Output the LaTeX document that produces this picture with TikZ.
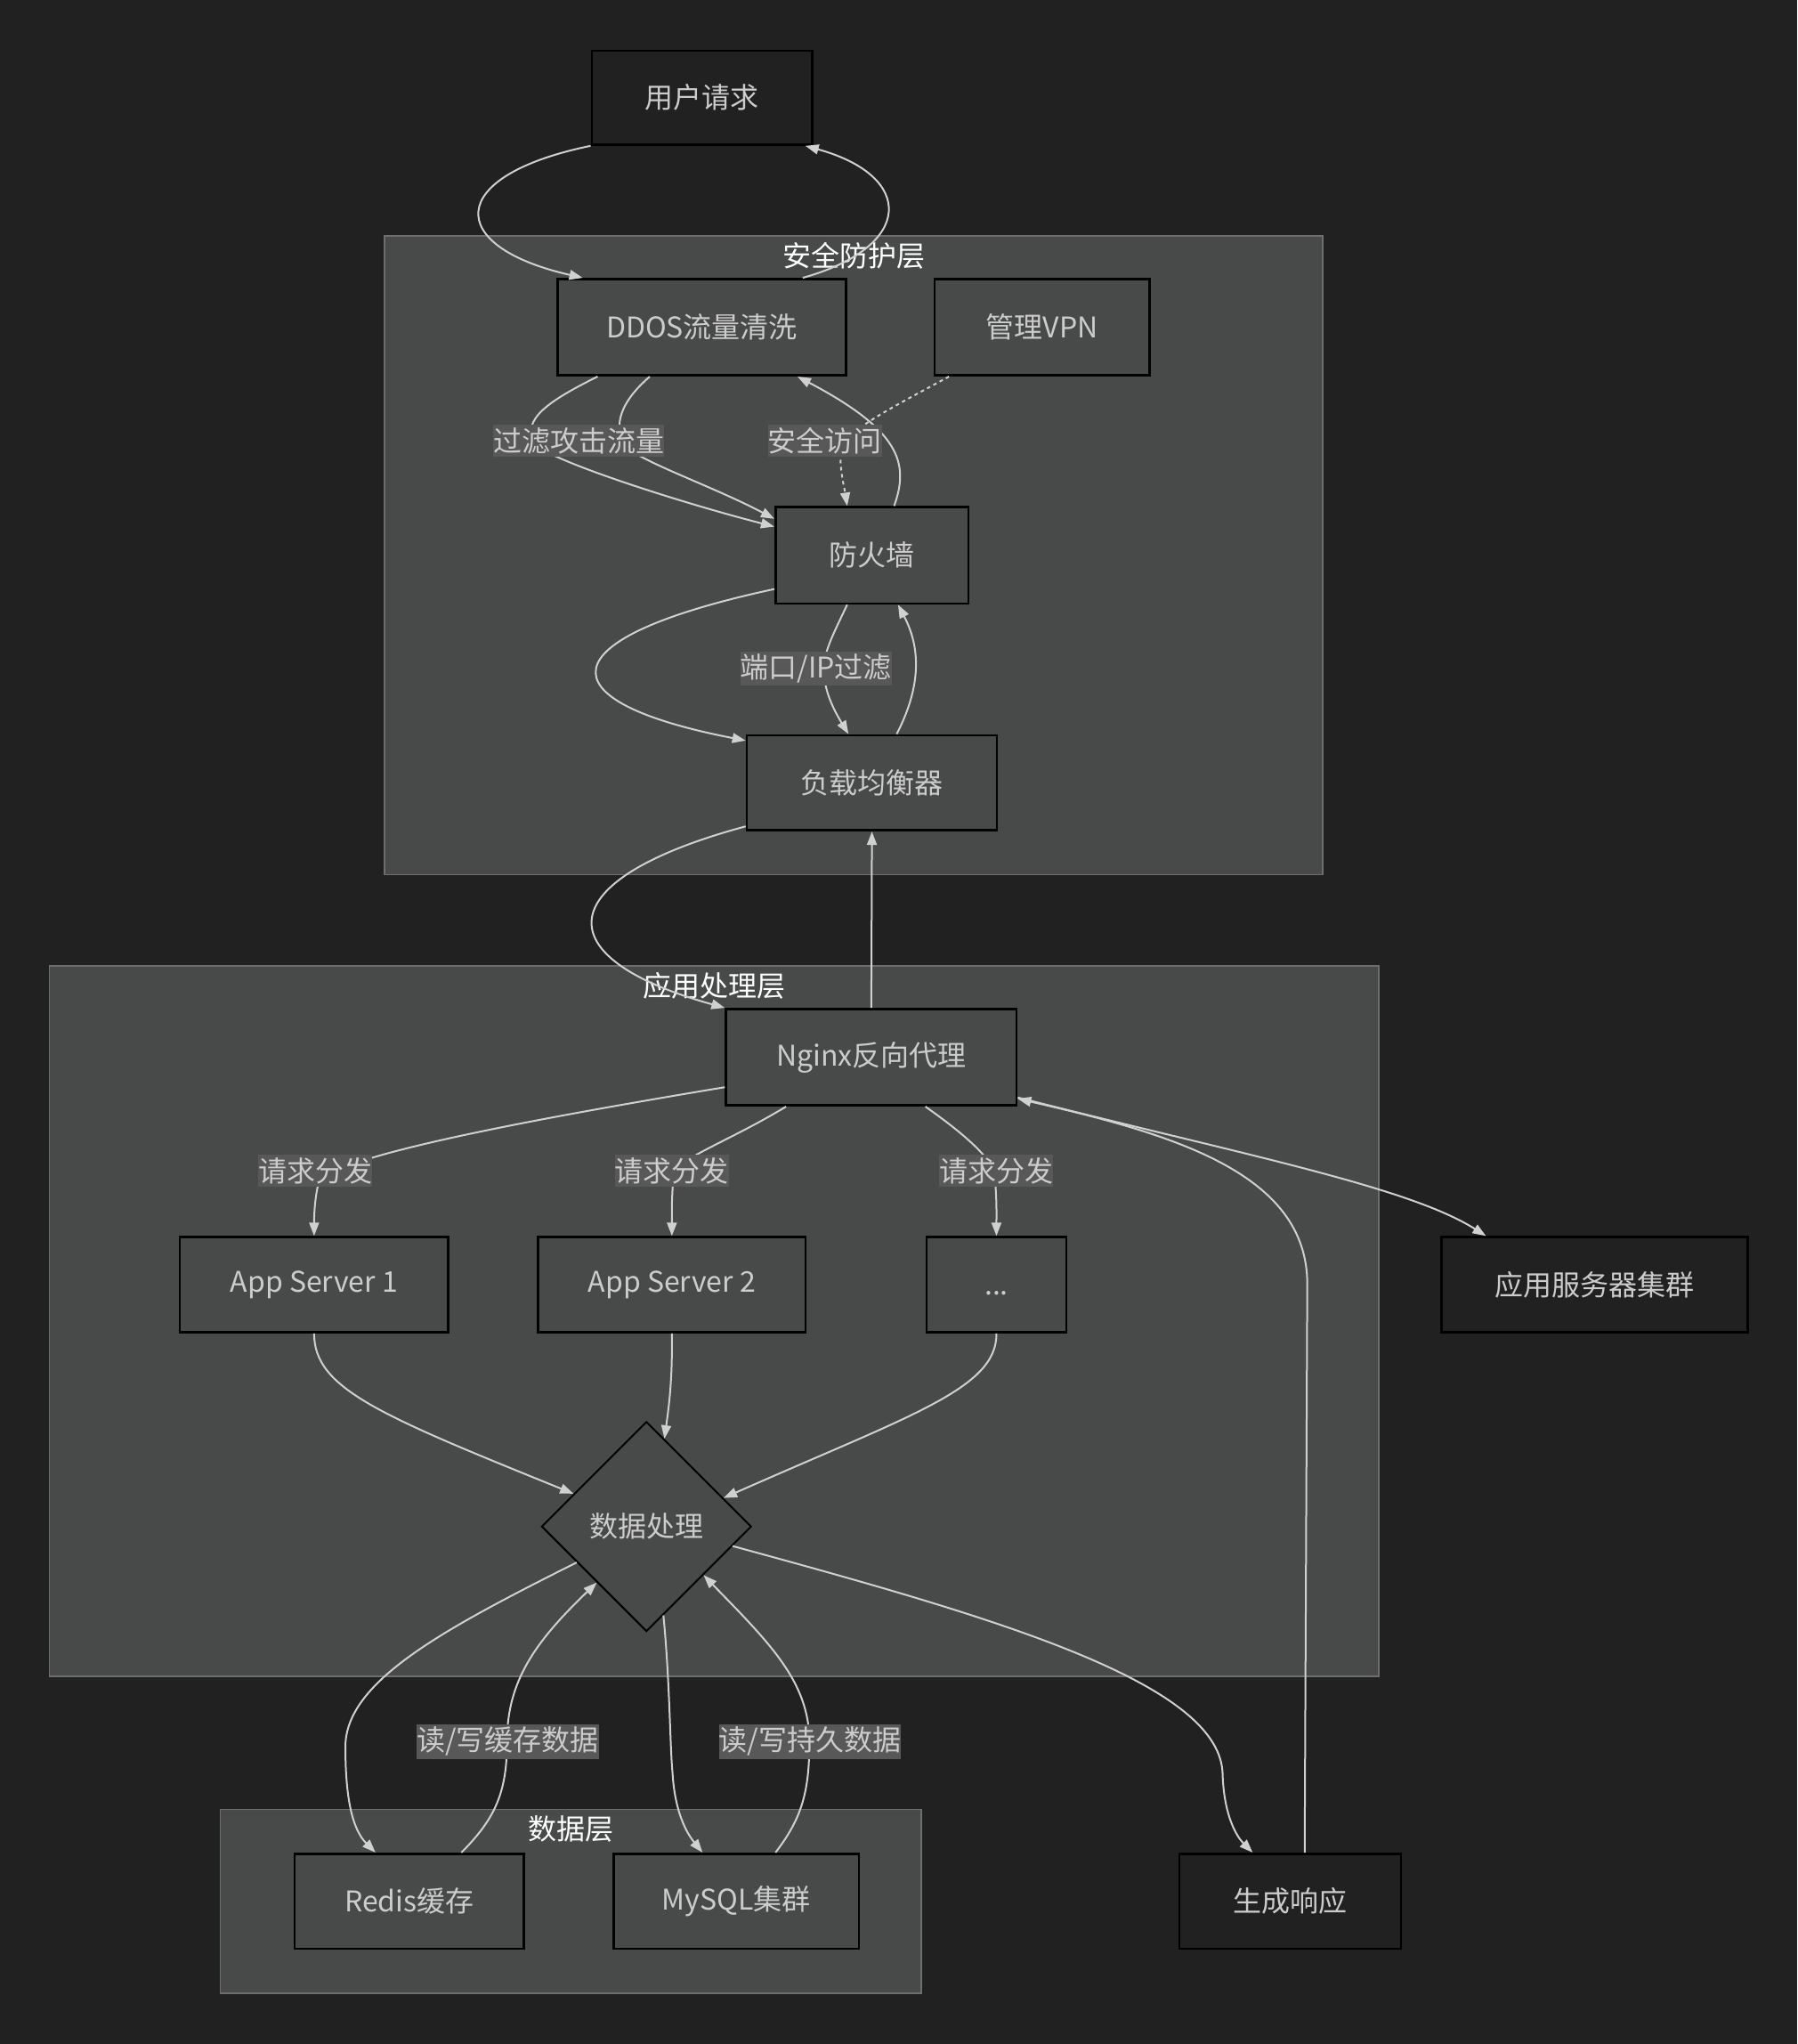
\documentclass[tikz,border=0pt]{standalone}
\usepackage{fontspec}
\newfontfamily\cjk{Noto Sans CJK SC}
\usetikzlibrary{arrows.meta,shapes.geometric,calc}
\definecolor{bgc}{HTML}{212121}
\definecolor{clc}{HTML}{484A49}
\definecolor{clb}{HTML}{6E6E6E}
\definecolor{txc}{HTML}{CCCCCC}
\definecolor{lnc}{HTML}{D0D0D0}
\definecolor{lbc}{HTML}{585858}
\begin{document}
\begin{tikzpicture}[x=1.4641pt,y=-1.4641pt,
  box/.style={draw=black, line width=2.6pt, fill=clc, text=txc, font=\cjk\fontsize{32}{38}\selectfont, inner sep=0pt},
  outbox/.style={box, fill=bgc},
  lbl/.style={fill=lbc, text=txc, font=\cjk\fontsize{32}{38}\selectfont, inner xsep=0pt, inner ysep=3pt},
  ttl/.style={text=white, font=\cjk\fontsize{32}{38}\selectfont, inner sep=0pt},
  conn/.style={draw=lnc, line width=2pt, -{Triangle[length=15pt,width=11pt]}},
  clus/.style={fill=clc, draw=clb, line width=1.6pt}]
\useasboundingbox (0,0) rectangle (1379,1568);
\fill[bgc] (0,0) rectangle (1379,1568);
% clusters
\draw[clus] (295,181) rectangle (1015,671);
\draw[clus] (38,741) rectangle (1058,1286);
\draw[clus] (169,1388) rectangle (707,1529);
\node[ttl] (t1) at (655,196) {安全防护层};
\node[ttl] (t2) at (548,756) {应用处理层};
\node[ttl] (t3) at (438,1403) {数据层};
% nodes
\node[outbox, minimum width=247.4pt, minimum height=105.4pt] (user) at (538.5,75) {用户请求};
\node[box, minimum width=323.6pt, minimum height=108.3pt] (ddos) at (538.5,251) {DDOS流量清洗};
\node[box, minimum width=241.6pt, minimum height=108.3pt] (vpn) at (799.5,251) {管理VPN};
\node[box, minimum width=216.7pt, minimum height=108.3pt] (fw) at (669,426) {防火墙};
\node[box, minimum width=281.1pt, minimum height=106.9pt] (lb) at (669,600.5) {负载均衡器};
\node[box, minimum width=326.5pt, minimum height=108.3pt] (nginx) at (668.5,811) {Nginx反向代理};
\node[box, minimum width=301.6pt, minimum height=106.9pt] (app1) at (241,985.5) {App Server 1};
\node[box, minimum width=300.1pt, minimum height=106.9pt] (app2) at (515.5,985.5) {App Server 2};
\node[box, minimum width=156.7pt, minimum height=106.9pt] (dots) at (764.5,985.5) {\vphantom{A}...};
\node[outbox, minimum width=344.1pt, minimum height=106.9pt] (asc) at (1223.5,985.5) {应用服务器集群};
\node[box, shape=diamond, aspect=1, line width=2pt, minimum width=235.7pt, minimum height=235.7pt] (dp) at (496,1171) {数据处理};
\node[box, minimum width=257.7pt, minimum height=106.9pt] (redis) at (314,1458.5) {Redis缓存};
\node[box, minimum width=275.3pt, minimum height=106.9pt] (mysql) at (565,1458.5) {MySQL集群};
\node[outbox, minimum width=248.9pt, minimum height=106.9pt] (resp) at (990,1458.5) {生成响应};
% edges
\draw[conn] (user.south west) .. controls (341,135) and (341,189) .. ($(ddos.north west)+(20,0)$);
\draw[conn] ($(ddos.north east)+(-34,0)$) .. controls (702,189) and (702,135) .. ($(user.south east)+(-6,0)$);
\draw[conn] ($(ddos.south)+(-80,0)$) .. controls (420,308) and (400,322) .. (410,340) .. controls (418,352) and (520,385) .. ($(fw.west)+(0,-22)$);
\draw[conn] ($(ddos.south)+(-40,0)$) .. controls (480,305) and (470,322) .. (478,340) .. controls (485,352) and (545,372) .. ($(fw.west)+(0,-28)$);
\draw[conn] ($(fw.north)+(17,0)$) .. controls (698,355) and (690,330) .. ($(ddos.south east)+(-38,0)$);
\draw[conn, dash pattern=on 4pt off 4pt] ($(vpn.south west)+(12,0)$) .. controls (680,315) and (650,330) .. (645,345) .. controls (644,360) and (648,375) .. ($(fw.north)+(-19,0)$);
\draw[conn] ($(fw.south)+(-19,0)$) .. controls (640,485) and (632,500) .. (632,513) .. controls (632,530) and (640,545) .. ($(lb.north)+(-18,0)$);
\draw[conn] ($(lb.north)+(19,0)$) .. controls (705,530) and (708,500) .. ($(fw.south)+(20,0)$);
\draw[conn] ($(fw.south west)+(0,-12)$) .. controls (417,490) and (417,538) .. ($(lb.north west)+(0,5)$);
\draw[conn] ($(lb.south west)+(0,-4)$) .. controls (420,675) and (418,735) .. (nginx.north west);
\draw[conn] (nginx.north) -- (lb.south);
\draw[conn] ($(nginx.west)+(0,23)$) .. controls (400,860) and (270,885) .. (245,905) .. controls (241,920) and (241,935) .. (app1.north);
\draw[conn] ($(nginx.south west)+(47,0)$) .. controls (560,875) and (522,888) .. (517,900) .. controls (515,920) and (515.5,935) .. (app2.north);
\draw[conn] ($(nginx.south)+(41.5,0)$) .. controls (740,870) and (760,888) .. (763,900) .. controls (765,920) and (764.5,935) .. (dots.north);
\draw[conn] ($(nginx.south east)+(0,-7)$) .. controls (950,885) and (1080,910) .. ($(asc.north west)+(35,0)$);
\draw[conn] ($(resp.north)+(11,0)$) -- (1003,985) .. controls (1003,900) and (900,870) .. ($(nginx.south east)+(0,-6)$);
\draw[conn] (app1.south) .. controls (241,1065) and (290,1085) .. ($(dp.west)!0.31!(dp.north)$);
\draw[conn] (app2.south) .. controls (516,1060) and (513,1080) .. ($(dp.north)!0.17!(dp.east)$);
\draw[conn] (dots.south) .. controls (765,1065) and (700,1085) .. ($(dp.north)!0.73!(dp.east)$);
\draw[conn] ($(dp.west)!0.34!(dp.south)$) .. controls (340,1250) and (265,1290) .. (265,1340) .. controls (265,1385) and (272,1405) .. ($(redis.north west)+(63,0)$);
\draw[conn] ($(redis.north)+(40,0)$) .. controls (380,1395) and (389,1375) .. (389,1336) .. controls (389,1290) and (410,1260) .. ($(dp.west)!0.53!(dp.south)$);
\draw[conn] ($(dp.south)!0.16!(dp.east)$) .. controls (514,1290) and (514,1340) .. (516,1360) .. controls (518,1395) and (530,1410) .. ($(mysql.north)+(-26,0)$);
\draw[conn] ($(mysql.north)+(30,0)$) .. controls (615,1395) and (621,1375) .. (621,1336) .. controls (621,1290) and (590,1260) .. ($(dp.south)!0.54!(dp.east)$);
\draw[conn] ($(dp.east)!0.185!(dp.south)$) .. controls (760,1240) and (935,1290) .. (938,1360) .. controls (939,1395) and (950,1410) .. ($(resp.north west)+(57,0)$);
% labels
\node[lbl] (l1) at (444,338) {过滤攻击流量};
\node[lbl] (l2) at (633,338) {安全访问};
\node[lbl] (l3) at (626,513) {端口/IP过滤};
\node[lbl] (l4) at (242,898) {请求分发};
\node[lbl] (l5) at (515.5,898) {请求分发};
\node[lbl] (l6) at (764.5,898) {请求分发};
\node[lbl] (l7) at (389.5,1336) {读/写缓存数据};
\node[lbl] (l8) at (621.5,1336) {读/写持久数据};
\end{tikzpicture}
\end{document}
